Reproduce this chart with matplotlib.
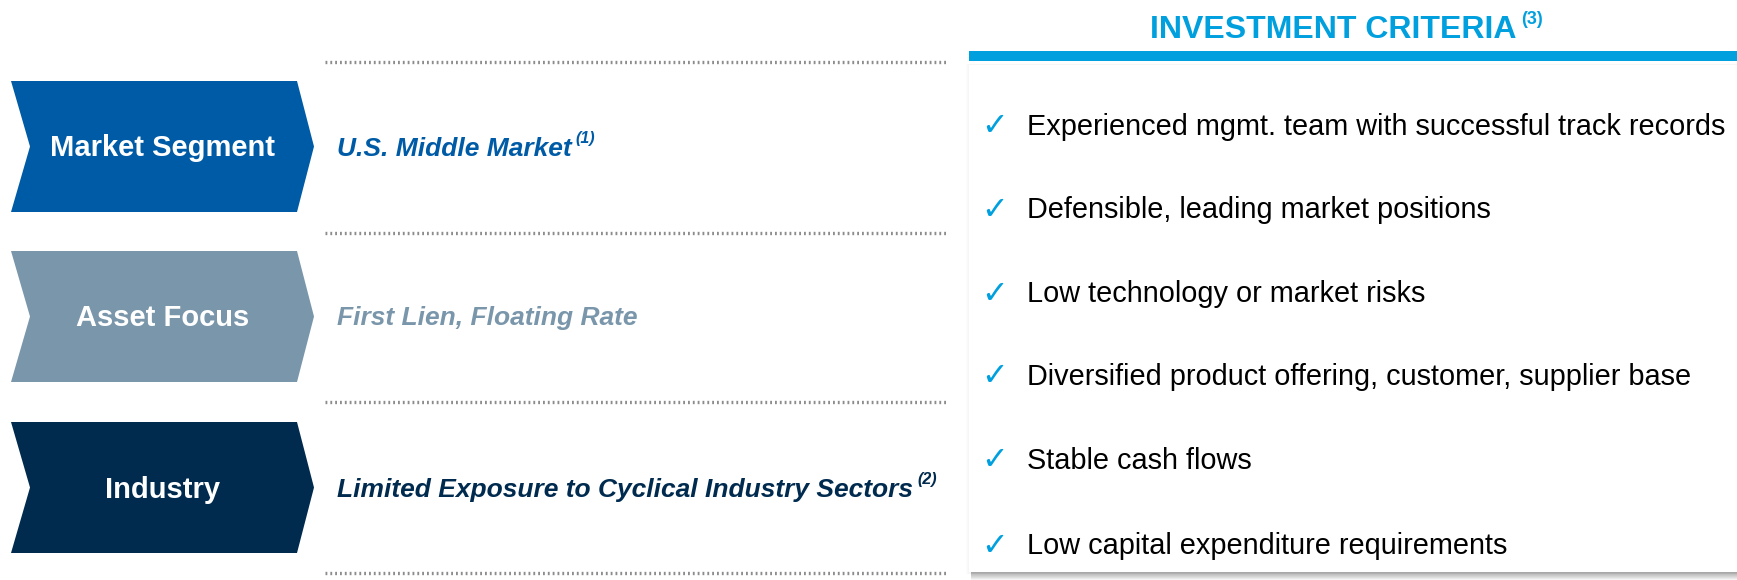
import matplotlib
matplotlib.use("Agg")
import matplotlib.pyplot as plt
from matplotlib.patches import Polygon, Rectangle

plt.rcParams['font.family'] = ['Liberation Sans', 'DejaVu Sans']

# ---- data ----
categories = ["Market Segment", "Asset Focus", "Industry"]
descriptions = ["U.S. Middle Market", "First Lien, Floating Rate",
                "Limited Exposure to Cyclical Industry Sectors"]
footnotes = ["(1)", "", "(2)"]
cat_colors = ["#005BA6", "#7A96AB", "#002B4F"]
criteria_title = "INVESTMENT CRITERIA"
criteria_note = "(3)"
criteria = ["Experienced mgmt. team with successful track records",
            "Defensible, leading market positions",
            "Low technology or market risks",
            "Diversified product offering, customer, supplier base",
            "Stable cash flows",
            "Low capital expenditure requirements"]
accent = "#00A0DF"

W, H = 1737, 580
fig = plt.figure(figsize=(W / 100, H / 100), dpi=100)
ax = fig.add_axes([0, 0, 1, 1])
ax.set_xlim(0, W)
ax.set_ylim(H, 0)
ax.axis('off')
fig.canvas.draw()
renderer = fig.canvas.get_renderer()
inv = ax.transData.inverted()


def right_edge(t):
    bb = t.get_window_extent(renderer=renderer)
    x1, _ = inv.transform((bb.x1, bb.y1))
    return x1


# dotted separators
sep_y = [62, 233, 402, 573]
for y in sep_y:
    ax.plot([325, 946], [y, y], color="#8C8C8C", lw=2.4,
            linestyle=(0, (0.55, 0.9)), solid_capstyle='butt')

# chevrons
tops = [81, 251, 422]
hgt = 131
for i, (cat, desc, fn, col) in enumerate(zip(categories, descriptions, footnotes, cat_colors)):
    t = tops[i]
    b = t + hgt
    m = (t + b) / 2
    poly = Polygon([(11, t), (297, t), (314, m), (297, b), (11, b), (30, m)],
                   closed=True, facecolor=col, edgecolor='none')
    ax.add_patch(poly)
    ax.text(163, m + 2, cat, color='white', fontsize=21, fontweight='bold',
            ha='center', va='center')
    td = ax.text(337, m + 2, desc, color=col, fontsize=19, fontweight='bold',
                 style='italic', ha='left', va='center')
    if fn:
        ax.text(right_edge(td) + 4, m - 8, fn, color=col, fontsize=11.5,
                fontweight='bold', style='italic', ha='left', va='center')

# right panel with soft bottom shadow
px0, py0, py1 = 969, 62, 572
for k in range(8):
    ax.add_patch(Rectangle((px0 + 2, py1 - 2), W - px0, 2 + (8 - k),
                           facecolor='#000000', alpha=0.045, edgecolor='none'))
for k in range(3):
    ax.add_patch(Rectangle((px0 - (3 - k), py0 + 2), W, py1 - py0,
                           facecolor='#000000', alpha=0.012, edgecolor='none'))
ax.add_patch(Rectangle((px0, py0 + 3), W - px0, py1 - py0 - 3,
                       facecolor='white', edgecolor='none'))
ax.add_patch(Rectangle((px0, 51), W - px0, 10, facecolor=accent, edgecolor='none'))

tt = ax.text(1150, 30, criteria_title, color=accent, fontsize=23, fontweight='bold',
             ha='left', va='center')
ax.text(right_edge(tt) + 5, 20, criteria_note, color=accent, fontsize=13,
        fontweight='bold', ha='left', va='center')

item_y = [127, 210, 294, 377, 461, 546]
for y, s in zip(item_y, criteria):
    ax.text(981, y, "\u2713", color=accent, fontsize=23, fontweight='bold',
            ha='left', va='center', family=['DejaVu Sans'])
    ax.text(1027, y, s, color='black', fontsize=20.8, ha='left', va='center')

fig.savefig("out.png", dpi=100)
